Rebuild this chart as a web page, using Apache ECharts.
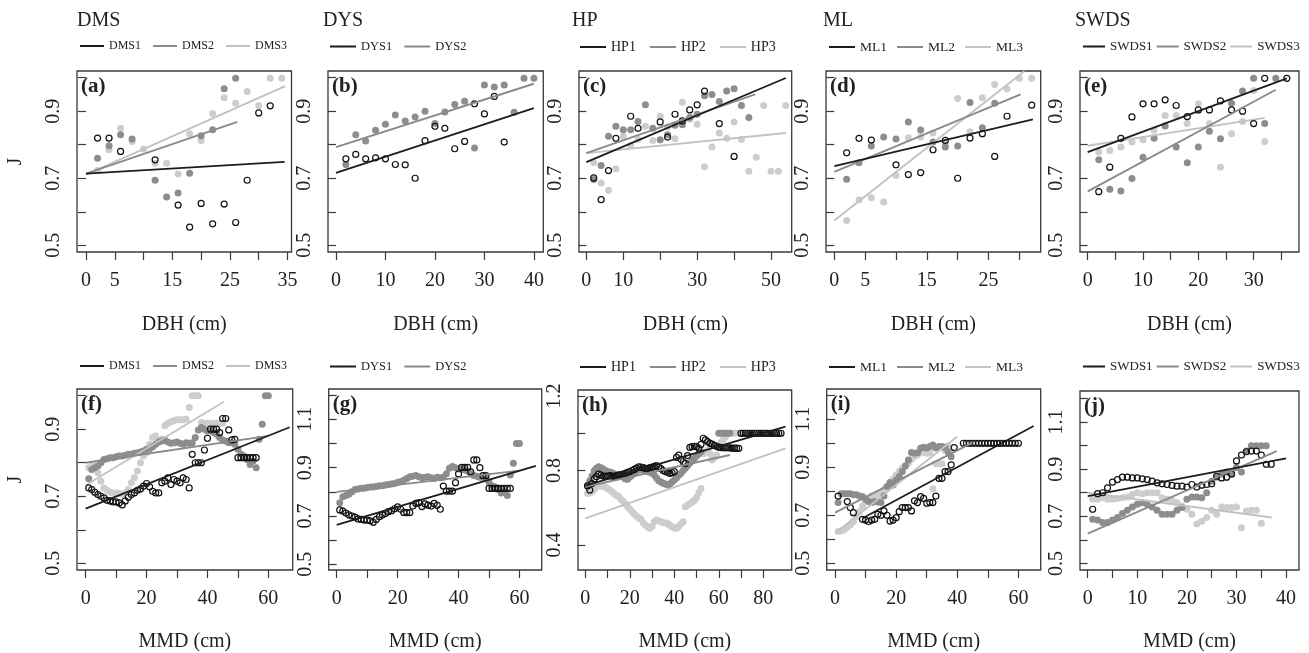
<!DOCTYPE html>
<html><head><meta charset="utf-8">
<script src="https://cdn.jsdelivr.net/npm/echarts@6/dist/echarts.min.js"></script>
<style>html,body{margin:0;padding:0;background:#fff}#c{width:1309px;height:653px}</style>
</head><body><div id="c"></div>
<script>
// ================= DATA =================
// ---- top row: J vs DBH (cm) ----
const DMS1_DBH = [[2,0.82],[4,0.82],[6,0.78],[12,0.755],[16,0.62],[18,0.554],[20,0.625],[22,0.564],[24,0.623],[26,0.568],[28,0.694],[30,0.895],[32,0.916]];
const DMS2_DBH = [[2,0.76],[4,0.797],[6,0.83],[8,0.817],[12,0.694],[14,0.644],[16,0.656],[18,0.715],[20,0.827],[22,0.845],[24,0.967],[26,0.998]];
const DMS3_DBH = [[2,0.723],[4,0.785],[6,0.849],[8,0.81],[10,0.787],[12,0.745],[14,0.745],[16,0.713],[18,0.833],[20,0.813],[22,0.893],[24,0.94],[26,0.924],[28,0.959],[30,0.917],[32,0.998],[34,0.998]];
const DMS1_DBH_fit = [[0,0.714],[34.5,0.749]];
const DMS2_DBH_fit = [[0,0.714],[26.3,0.868]];
const DMS3_DBH_fit = [[0,0.711],[34.6,0.975]];

const DYS1_DBH = [[2,0.758],[4,0.771],[6,0.758],[8,0.761],[10,0.758],[12,0.741],[14,0.74],[16,0.70],[18,0.812],[20,0.855],[22,0.849],[24,0.788],[26,0.81],[28,0.922],[30,0.892],[32,0.944],[34,0.808]];
const DYS2_DBH = [[2,0.741],[4,0.83],[6,0.811],[8,0.843],[10,0.861],[12,0.889],[14,0.871],[16,0.883],[18,0.9],[20,0.863],[22,0.898],[24,0.92],[26,0.93],[28,0.79],[30,0.978],[32,0.972],[34,0.978],[36,0.897],[38,0.998],[40,0.998]];
const DYS1_DBH_fit = [[0,0.716],[40,0.909]];
const DYS2_DBH_fit = [[0,0.793],[40,0.982]];

const HP1_DBH = [[2,0.701],[4,0.636],[6,0.723],[8,0.819],[12,0.885],[14,0.849],[20,0.868],[22,0.823],[24,0.891],[26,0.871],[28,0.904],[30,0.919],[32,0.96],[36,0.863],[40,0.765]];
const HP2_DBH = [[2,0.696],[4,0.738],[6,0.825],[8,0.855],[10,0.845],[12,0.845],[14,0.869],[16,0.919],[18,0.849],[20,0.815],[22,0.83],[24,0.858],[26,0.86],[28,0.881],[30,0.891],[32,0.946],[34,0.95],[36,0.929],[38,0.96],[40,0.967],[42,0.917],[44,0.881]];
const HP3_DBH = [[2,0.747],[4,0.686],[6,0.664],[8,0.728],[10,0.825],[12,0.798],[14,0.816],[16,0.855],[18,0.813],[20,0.885],[22,0.853],[24,0.818],[26,0.927],[28,0.876],[30,0.861],[32,0.734],[34,0.793],[36,0.835],[38,0.819],[40,0.868],[42,0.816],[44,0.721],[46,0.763],[48,0.917],[50,0.721],[52,0.721],[54,0.917]];
const HP1_DBH_fit = [[0,0.748],[54,0.999]];
const HP2_DBH_fit = [[0,0.775],[45.7,0.95]];
const HP3_DBH_fit = [[0,0.775],[54,0.835]];

const ML1_DBH = [[2,0.776],[4,0.819],[6,0.814],[10,0.74],[12,0.711],[14,0.717],[16,0.785],[18,0.813],[20,0.70],[22,0.82],[24,0.833],[26,0.765],[28,0.885],[32,0.918]];
const ML2_DBH = [[2,0.697],[4,0.746],[6,0.796],[8,0.823],[10,0.817],[12,0.868],[14,0.844],[16,0.808],[18,0.793],[20,0.796],[22,0.926],[24,0.851],[26,0.924]];
const ML3_DBH = [[2,0.574],[4,0.636],[6,0.642],[8,0.629],[10,0.708],[12,0.821],[14,0.823],[16,0.835],[18,0.803],[20,0.938],[22,0.839],[24,0.94],[26,0.98],[28,0.966],[30,0.998],[32,0.998]];
const ML1_DBH_fit = [[0,0.736],[32.2,0.876]];
const ML2_DBH_fit = [[0,0.719],[30.2,0.95]];
const ML3_DBH_fit = [[0,0.574],[30.8,1.019]];

const SWDS1_DBH = [[2,0.66],[4,0.733],[6,0.819],[8,0.883],[10,0.922],[12,0.922],[14,0.934],[16,0.917],[18,0.884],[20,0.904],[22,0.904],[24,0.931],[26,0.904],[28,0.9],[30,0.863],[32,0.998],[36,0.998]];
const SWDS2_DBH = [[2,0.755],[4,0.667],[6,0.662],[8,0.699],[10,0.763],[12,0.819],[14,0.856],[16,0.793],[18,0.746],[20,0.793],[22,0.84],[24,0.818],[26,0.924],[28,0.96],[30,0.998],[32,0.863],[34,0.998]];
const SWDS3_DBH = [[2,0.778],[4,0.783],[6,0.793],[8,0.808],[10,0.815],[12,0.843],[14,0.887],[16,0.887],[18,0.863],[20,0.922],[22,0.863],[24,0.733],[26,0.833],[28,0.869],[30,0.962],[32,0.81]];
const SWDS1_DBH_fit = [[0,0.778],[36,0.998]];
const SWDS2_DBH_fit = [[0,0.661],[34,0.964]];
const SWDS3_DBH_fit = [[0,0.797],[32,0.88]];

// ---- bottom row: J vs MMD (cm) ----
const DMS1_MMD = [[1,0.725],[2,0.72],[3,0.712],[4,0.705],[5,0.70],[6,0.695],[7,0.688],[8,0.686],[9,0.683],[10,0.683],[11,0.68],[12,0.674],[13,0.686],[14,0.697],[15,0.705],[16,0.71],[17,0.718],[18,0.722],[19,0.73],[20,0.738],[21,0.728],[22,0.715],[23,0.71],[24,0.71],[25,0.74],[26,0.745],[27,0.755],[28,0.735],[29,0.75],[30,0.745],[31,0.74],[32,0.755],[33,0.75],[34,0.725],[35,0.825],[36,0.80],[37,0.80],[38,0.80],[39,0.838],[40,0.873],[41,0.90],[42,0.90],[43,0.90],[44,0.89],[45,0.932],[46,0.932],[47,0.898],[48,0.868],[49,0.87],[50,0.815],[51,0.815],[52,0.815],[53,0.815],[54,0.815],[55,0.815],[56,0.815]];
const DMS2_MMD = [[1,0.752],[2,0.78],[3,0.785],[4,0.79],[5,0.80],[6,0.81],[7,0.812],[8,0.815],[9,0.815],[10,0.818],[11,0.82],[12,0.82],[13,0.822],[14,0.825],[15,0.825],[16,0.828],[17,0.83],[18,0.832],[19,0.835],[20,0.84],[21,0.842],[22,0.848],[23,0.855],[24,0.862],[25,0.865],[26,0.868],[27,0.862],[28,0.858],[29,0.86],[30,0.862],[31,0.858],[32,0.855],[33,0.86],[34,0.858],[35,0.86],[36,0.875],[37,0.898],[38,0.905],[39,0.90],[40,0.895],[41,0.895],[42,0.89],[43,0.885],[44,0.875],[45,0.868],[46,0.865],[47,0.86],[48,0.86],[49,0.855],[50,0.84],[51,0.825],[52,0.82],[53,0.81],[54,0.795],[55,0.805],[56,0.785],[57,0.87],[58,0.915],[59,1.0],[60,1.0]];
const DMS3_MMD = [[1,0.785],[2,0.79],[3,0.79],[4,0.77],[5,0.745],[6,0.725],[7,0.718],[8,0.712],[9,0.71],[10,0.71],[11,0.708],[12,0.705],[13,0.71],[14,0.72],[15,0.74],[16,0.755],[17,0.775],[18,0.80],[19,0.82],[20,0.83],[21,0.855],[22,0.875],[23,0.88],[24,0.865],[25,0.87],[26,0.91],[27,0.918],[28,0.922],[29,0.925],[30,0.928],[31,0.928],[32,0.928],[33,0.93],[34,0.965],[35,1.0],[36,1.0],[37,1.0],[38,0.92],[39,0.918],[40,0.918],[41,0.918],[42,0.918],[43,0.918],[44,0.918],[45,0.918]];
const DMS1_MMD_fit = [[0,0.663],[67,0.906]];
const DMS2_MMD_fit = [[0,0.80],[60,0.88]];
const DMS3_MMD_fit = [[0,0.733],[45.4,0.982]];

const DYS1_MMD = [[1,0.725],[2,0.72],[3,0.712],[4,0.705],[5,0.70],[6,0.695],[7,0.688],[8,0.686],[9,0.683],[10,0.683],[11,0.68],[12,0.674],[13,0.686],[14,0.697],[15,0.705],[16,0.71],[17,0.718],[18,0.722],[19,0.73],[20,0.738],[21,0.728],[22,0.715],[23,0.714],[24,0.714],[25,0.741],[26,0.752],[27,0.755],[28,0.739],[29,0.75],[30,0.745],[31,0.741],[32,0.752],[33,0.744],[34,0.728],[35,0.824],[36,0.803],[37,0.803],[38,0.803],[39,0.838],[40,0.874],[41,0.901],[42,0.901],[43,0.901],[44,0.883],[45,0.932],[46,0.932],[47,0.90],[48,0.867],[49,0.867],[50,0.814],[51,0.814],[52,0.814],[53,0.814],[54,0.814],[55,0.814],[56,0.814],[57,0.814]];
const DYS2_MMD = [[1,0.755],[2,0.78],[3,0.785],[4,0.79],[5,0.80],[6,0.81],[7,0.812],[8,0.815],[9,0.815],[10,0.818],[11,0.82],[12,0.82],[13,0.822],[14,0.825],[15,0.825],[16,0.828],[17,0.83],[18,0.832],[19,0.835],[20,0.84],[21,0.842],[22,0.848],[23,0.855],[24,0.862],[25,0.865],[26,0.868],[27,0.862],[28,0.858],[29,0.86],[30,0.862],[31,0.858],[32,0.855],[33,0.86],[34,0.858],[35,0.86],[36,0.875],[37,0.898],[38,0.905],[39,0.90],[40,0.895],[41,0.895],[42,0.89],[43,0.885],[44,0.875],[45,0.868],[46,0.865],[47,0.86],[48,0.86],[49,0.855],[50,0.84],[51,0.825],[52,0.82],[53,0.81],[54,0.795],[55,0.805],[56,0.785],[57,0.87],[58,0.918],[59,1.0],[60,1.0]];
const DYS1_MMD_fit = [[0,0.663],[65.4,0.907]];
const DYS2_MMD_fit = [[0,0.80],[60,0.888]];

const HP1_MMD = [[1,0.717],[2,0.695],[3,0.73],[4,0.755],[5,0.767],[6,0.781],[7,0.775],[8,0.77],[9,0.768],[10,0.77],[11,0.772],[12,0.77],[13,0.768],[14,0.772],[15,0.775],[16,0.778],[17,0.78],[18,0.785],[19,0.79],[20,0.794],[21,0.80],[22,0.806],[23,0.813],[24,0.82],[25,0.818],[26,0.815],[27,0.812],[28,0.81],[29,0.815],[30,0.818],[31,0.822],[32,0.826],[33,0.82],[34,0.81],[35,0.80],[36,0.794],[37,0.79],[38,0.785],[39,0.788],[40,0.794],[41,0.87],[42,0.883],[43,0.86],[44,0.847],[45,0.838],[46,0.88],[47,0.924],[48,0.928],[49,0.93],[50,0.928],[51,0.919],[52,0.94],[53,0.973],[54,0.964],[55,0.955],[56,0.946],[57,0.942],[58,0.935],[59,0.93],[60,0.925],[61,0.923],[62,0.923],[63,0.922],[64,0.922],[65,0.922],[66,0.92],[67,0.92],[68,0.92],[69,0.919],[70,1.0],[71,1.0],[72,1.0],[73,1.0],[74,1.0],[75,1.0],[76,1.0],[77,1.0],[78,1.0],[79,1.0],[80,1.0],[81,1.0],[82,1.0],[83,1.0],[84,1.0],[85,1.0],[86,1.0],[87,1.0],[88,1.0]];
const HP2_MMD = [[1,0.72],[2,0.745],[3,0.77],[4,0.80],[5,0.812],[6,0.82],[7,0.815],[8,0.808],[9,0.80],[10,0.795],[11,0.792],[12,0.788],[13,0.782],[14,0.778],[15,0.774],[16,0.77],[17,0.765],[18,0.755],[19,0.753],[20,0.765],[21,0.775],[22,0.785],[23,0.797],[24,0.806],[25,0.806],[26,0.805],[27,0.80],[28,0.795],[29,0.79],[30,0.785],[31,0.776],[32,0.76],[33,0.745],[34,0.738],[35,0.732],[36,0.728],[37,0.722],[38,0.728],[39,0.738],[40,0.749],[41,0.76],[42,0.775],[43,0.785],[44,0.80],[45,0.812],[46,0.825],[47,0.84],[48,0.852],[49,0.865],[50,0.878],[51,0.89],[52,0.90],[60,1.0],[61,1.0],[62,1.0],[63,1.0],[64,1.0],[65,1.0]];
const HP3_MMD = [[1,0.677],[2,0.68],[3,0.686],[4,0.70],[5,0.713],[6,0.716],[7,0.717],[8,0.716],[9,0.71],[10,0.704],[11,0.695],[12,0.686],[13,0.675],[14,0.667],[15,0.66],[16,0.645],[17,0.635],[18,0.62],[19,0.606],[20,0.593],[21,0.579],[22,0.567],[23,0.556],[24,0.545],[25,0.538],[26,0.52],[27,0.507],[28,0.498],[29,0.49],[30,0.50],[31,0.525],[32,0.534],[33,0.53],[34,0.525],[35,0.52],[36,0.518],[37,0.516],[38,0.505],[39,0.498],[40,0.492],[41,0.49],[42,0.50],[43,0.513],[44,0.525],[45,0.606],[46,0.615],[47,0.622],[48,0.63],[49,0.64],[50,0.655],[51,0.68],[52,0.704],[53,0.89],[54,0.90],[55,0.91],[56,0.89],[57,0.856],[58,0.87],[59,0.883],[60,0.93],[61,0.95],[62,0.964],[63,0.98],[64,1.0],[65,1.0],[66,1.0],[67,1.0],[68,1.0],[69,1.0]];
const HP1_MMD_fit = [[0,0.719],[90,1.035]];
const HP2_MMD_fit = [[0,0.713],[65,0.883]];
const HP3_MMD_fit = [[0,0.543],[90,0.919]];

const ML1_MMD = [[1,0.78],[4,0.757],[5,0.732],[6,0.711],[9,0.683],[10,0.68],[11,0.674],[12,0.68],[13,0.683],[14,0.704],[15,0.70],[16,0.718],[17,0.70],[18,0.676],[19,0.68],[20,0.69],[21,0.715],[22,0.732],[23,0.732],[24,0.732],[25,0.718],[26,0.76],[27,0.753],[28,0.778],[29,0.77],[30,0.75],[31,0.753],[32,0.753],[33,0.78],[34,0.854],[35,0.854],[36,0.882],[37,0.882],[38,0.91],[39,0.982],[42,1.0],[43,1.0],[44,1.0],[45,1.0],[46,1.0],[47,1.0],[48,1.0],[49,1.0],[50,1.0],[51,1.0],[52,1.0],[53,1.0],[54,1.0],[55,1.0],[56,1.0],[57,1.0],[58,1.0],[59,1.0],[60,1.0]];
const ML2_MMD = [[1,0.753],[2,0.79],[3,0.79],[4,0.79],[5,0.79],[6,0.785],[7,0.785],[8,0.78],[9,0.778],[10,0.767],[11,0.757],[12,0.753],[13,0.757],[14,0.755],[15,0.753],[16,0.78],[17,0.82],[18,0.836],[19,0.826],[20,0.847],[21,0.861],[22,0.882],[23,0.906],[24,0.93],[25,0.961],[26,0.958],[27,0.96],[28,0.979],[29,0.983],[30,0.98],[31,0.986],[32,0.993],[33,0.98],[34,0.986],[35,0.986],[36,0.982],[37,0.965],[38,0.944]];
const ML3_MMD = [[1,0.632],[2,0.636],[3,0.64],[4,0.65],[5,0.66],[6,0.674],[7,0.694],[8,0.715],[9,0.739],[10,0.757],[11,0.771],[12,0.78],[13,0.785],[14,0.79],[15,0.795],[16,0.806],[17,0.82],[18,0.836],[19,0.85],[20,0.868],[21,0.882],[22,0.896],[23,0.903],[24,0.917],[25,0.933],[26,0.945],[27,0.951],[28,0.965],[29,0.96],[30,0.958],[31,0.96],[32,0.81],[33,0.915],[34,0.915],[35,0.915],[36,0.97],[37,0.99]];
const ML1_MMD_fit = [[9,0.6875],[65,1.072]];
const ML2_MMD_fit = [[0,0.711],[45,1.003]];
const ML3_MMD_fit = [[0,0.625],[40,1.028]];

const SWDS1_MMD = [[1,0.73],[2,0.796],[3,0.80],[4,0.821],[5,0.845],[6,0.856],[7,0.866],[8,0.866],[9,0.863],[10,0.863],[11,0.859],[12,0.856],[13,0.849],[14,0.842],[15,0.838],[16,0.835],[17,0.831],[18,0.828],[19,0.828],[20,0.824],[21,0.835],[22,0.824],[23,0.832],[24,0.835],[25,0.838],[26,0.87],[27,0.863],[28,0.866],[29,0.88],[30,0.935],[31,0.96],[32,0.974],[33,0.977],[34,0.977],[35,0.96],[36,0.921],[37,0.921]];
const SWDS2_MMD = [[1,0.688],[2,0.684],[3,0.674],[4,0.674],[5,0.684],[6,0.695],[7,0.712],[8,0.726],[9,0.74],[10,0.751],[11,0.758],[12,0.751],[13,0.74],[14,0.726],[15,0.709],[16,0.709],[17,0.709],[18,0.726],[19,0.737],[20,0.772],[21,0.782],[22,0.782],[23,0.779],[24,0.80],[25,0.849],[26,0.866],[27,0.88],[28,0.888],[29,0.88],[30,0.907],[31,0.888],[32,0.977],[33,1.0],[34,1.0],[35,1.0],[36,1.0]];
const SWDS3_MMD = [[1,0.772],[2,0.772],[3,0.779],[4,0.772],[5,0.772],[6,0.776],[7,0.779],[8,0.782],[9,0.793],[10,0.80],[11,0.796],[12,0.80],[13,0.80],[14,0.80],[15,0.779],[16,0.772],[17,0.768],[18,0.758],[19,0.744],[20,0.73],[21,0.709],[22,0.667],[23,0.679],[24,0.695],[25,0.726],[26,0.709],[27,0.74],[28,0.737],[29,0.737],[30,0.74],[31,0.651],[32,0.723],[33,0.726],[34,0.726],[35,0.67]];
const SWDS1_MMD_fit = [[0,0.786],[40,0.946]];
const SWDS2_MMD_fit = [[0,0.626],[38.1,0.977]];
const SWDS3_MMD_fit = [[0,0.80],[37.1,0.695]];

// ---- tick values and tick labels ----
const aXTicks = [0,5,10,15,20,25,30,35], aXLabels = [0,5,15,25,35];
const bXTicks = [0,10,20,30,40], bXLabels = [0,10,20,30,40];
const cXTicks = [0,10,20,30,40,50], cXLabels = [0,10,30,50];
const dXTicks = [0,5,10,15,20,25,30], dXLabels = [0,5,15,25];
const eXTicks = [0,5,10,15,20,25,30,35], eXLabels = [0,10,20,30];
const fXTicks = [0,10,20,30,40,50,60], fXLabels = [0,20,40,60];
const hXTicks = [0,10,20,30,40,50,60,70,80], hXLabels = [0,20,40,60,80];
const jXTicks = [0,5,10,15,20,25,30,35,40], jXLabels = [0,10,20,30,40];
const yTicks05_10 = [0.5,0.6,0.7,0.8,0.9,1.0], yLabels05_10 = [0.5,0.7,0.9];
const yTicks05_12 = [0.5,0.6,0.7,0.8,0.9,1.0,1.1,1.2], yLabels05_12 = [0.5,0.7,0.9,1.1];
const yTicks04_12 = [0.4,0.6,0.8,1.0,1.2], yLabels04_12 = [0.4,0.8,1.2];

const groupNames = ['DMS','DYS','HP','ML','SWDS'];
const panelTags = ['(a)','(b)','(c)','(d)','(e)','(f)','(g)','(h)','(i)','(j)'];
const seriesNames = [['DMS1','DMS2','DMS3'],['DYS1','DYS2'],['HP1','HP2','HP3'],['ML1','ML2','ML3'],['SWDS1','SWDS2','SWDS3']];

// ================= LAYOUT / STYLE =================
const SERIF = "'Liberation Serif', 'Times New Roman', serif";
const INK = '#222';
const FRAME = '#3a3a3a';
const PT_FILL = ['rgba(0,0,0,0)', '#8d8d8d', '#cdcdcd'];
const LINE_COL = ['#1c1c1c', '#8a8a8a', '#c2c2c2'];

const panels = [
  {pts:[DMS1_DBH,DMS2_DBH,DMS3_DBH], fits:[DMS1_DBH_fit,DMS2_DBH_fit,DMS3_DBH_fit], xT:aXTicks, xL:aXLabels, yT:yTicks05_10, yL:yLabels05_10, box:[77,71,291.5,252], xr:[-1.57,35.7], yr:[0.48,1.02]},
  {pts:[DYS1_DBH,DYS2_DBH], fits:[DYS1_DBH_fit,DYS2_DBH_fit], xT:bXTicks, xL:bXLabels, yT:yTicks05_10, yL:yLabels05_10, box:[328,71,543.3,252], xr:[-1.61,41.9], yr:[0.48,1.02]},
  {pts:[HP1_DBH,HP2_DBH,HP3_DBH], fits:[HP1_DBH_fit,HP2_DBH_fit,HP3_DBH_fit], xT:cXTicks, xL:cXLabels, yT:yTicks05_10, yL:yLabels05_10, box:[579,71,791.7,252], xr:[-1.99,55.6], yr:[0.48,1.02]},
  {pts:[ML1_DBH,ML2_DBH,ML3_DBH], fits:[ML1_DBH_fit,ML2_DBH_fit,ML3_DBH_fit], xT:dXTicks, xL:dXLabels, yT:yTicks05_10, yL:yLabels05_10, box:[826,71,1040.7,252], xr:[-1.35,33.46], yr:[0.48,1.02]},
  {pts:[SWDS1_DBH,SWDS2_DBH,SWDS3_DBH], fits:[SWDS1_DBH_fit,SWDS2_DBH_fit,SWDS3_DBH_fit], xT:eXTicks, xL:eXLabels, yT:yTicks05_10, yL:yLabels05_10, box:[1080,71,1299,252], xr:[-1.39,38.2], yr:[0.48,1.02]},
  {pts:[DMS1_MMD,DMS2_MMD,DMS3_MMD], fits:[DMS1_MMD_fit,DMS2_MMD_fit,DMS3_MMD_fit], xT:fXTicks, xL:fXLabels, yT:yTicks05_10, yL:yLabels05_10, box:[77,389,292.7,570], xr:[-2.85,68.0], yr:[0.48,1.02]},
  {pts:[DYS1_MMD,DYS2_MMD], fits:[DYS1_MMD_fit,DYS2_MMD_fit], xT:fXTicks, xL:fXLabels, yT:yTicks05_12, yL:yLabels05_12, box:[328.7,389,541.7,570], xr:[-2.63,67.3], yr:[0.4766,1.2255]},
  {pts:[HP1_MMD,HP2_MMD,HP3_MMD], fits:[HP1_MMD_fit,HP2_MMD_fit,HP3_MMD_fit], xT:hXTicks, xL:hXLabels, yT:yTicks04_12, yL:yLabels04_12, box:[578,390,791.7,570], xr:[-3.3,92.8], yr:[0.266,1.232]},
  {pts:[ML1_MMD,ML2_MMD,ML3_MMD], fits:[ML1_MMD_fit,ML2_MMD_fit,ML3_MMD_fit], xT:fXTicks, xL:fXLabels, yT:yTicks05_12, yL:yLabels05_12, box:[826.7,389,1040.7,570], xr:[-2.73,67.3], yr:[0.472,1.226]},
  {pts:[SWDS1_MMD,SWDS2_MMD,SWDS3_MMD], fits:[SWDS1_MMD_fit,SWDS2_MMD_fit,SWDS3_MMD_fit], xT:jXTicks, xL:jXLabels, yT:yTicks05_12, yL:yLabels05_12, box:[1080,391,1299,573], xr:[-1.55,42.6], yr:[0.472,1.232]}
];
// legend / title placement per column
const colTitleLeft = [77, 323, 572, 823, 1075];
const colLegend = [
  {left:79, w:24, gap:11, fs:12},
  {left:329, w:26, gap:11, fs:12.5},
  {left:579, w:26, gap:13, fs:14},
  {left:828, w:26, gap:9, fs:13.5},
  {left:1082, w:22, gap:3, fs:13}
];

const grids = [], xAxes = [], yAxes = [], series = [], legends = [], texts = [];

panels.forEach((p, i) => {
  const col = i % 5, row = Math.floor(i / 5);
  const [l, t, r, b] = p.box;
  grids.push({left:l, top:t, width:r-l, height:b-t, show:true, borderColor:FRAME, borderWidth:1.3, backgroundColor:'rgba(0,0,0,0)', containLabel:false});
  xAxes.push({
    gridIndex:i, type:'value', min:p.xr[0], max:p.xr[1],
    splitLine:{show:false}, axisLine:{show:false},
    axisTick:{show:true, customValues:p.xT, length:8, lineStyle:{color:FRAME, width:1.2}},
    axisLabel:{customValues:p.xL, margin:19, fontFamily:SERIF, fontSize:20, color:INK, hideOverlap:false},
    name: row === 0 ? 'DBH (cm)' : 'MMD (cm)', nameLocation:'middle', nameGap: row === 0 ? 63 : 62,
    nameTextStyle:{fontFamily:SERIF, fontSize:20, color:INK}
  });
  yAxes.push({
    gridIndex:i, type:'value', min:p.yr[0], max:p.yr[1],
    splitLine:{show:false}, axisLine:{show:false},
    axisTick:{show:true, customValues:p.yT, length:8, lineStyle:{color:FRAME, width:1.2}},
    axisLabel:{customValues:p.yL, rotate:90, margin:13, fontFamily:SERIF, fontSize:20, color:INK, hideOverlap:false},
    name: col === 0 ? 'J' : '', nameLocation:'middle', nameRotate:90, nameGap:51,
    nameTextStyle:{fontFamily:SERIF, fontSize:20, color:INK}
  });
  const names = seriesNames[col];
  // points: light first, then gray, then black open circles on top
  for (let k = p.pts.length - 1; k >= 0; k--) {
    const open = (k === 0);
    series.push({
      type:'scatter', name: names[k] + ' points', xAxisIndex:i, yAxisIndex:i, data:p.pts[k],
      symbol:'circle', symbolSize: open ? 6 : 7, silent:true, z: 2 + (2 - k), clip:false,
      itemStyle: open ? {color:'rgba(0,0,0,0)', borderColor:'#111', borderWidth:1.2, opacity:1}
                      : {color:PT_FILL[k], borderWidth:0, opacity:1}
    });
  }
  p.fits.forEach((f, k) => {
    series.push({
      type:'line', name:names[k], xAxisIndex:i, yAxisIndex:i, data:f, symbol:'none', silent:true, z:6 - k,
      lineStyle:{color:LINE_COL[k], width: k === 0 ? 1.8 : 1.9}, itemStyle:{color:LINE_COL[k]}, clip:false
    });
  });
  const lg = colLegend[col];
  legends.push({
    left:lg.left, top: row === 0 ? 40 : 360, orient:'horizontal', padding:0,
    itemWidth:lg.w, itemHeight:2, itemGap:lg.gap, selectedMode:false,
    data:names, textStyle:{fontFamily:SERIF, fontSize:lg.fs, color:INK}
  });
  texts.push({type:'text', x:l + 4, y:t + 5, silent:true, z:10,
    style:{text:panelTags[i], fontFamily:SERIF, fontSize:21, fontWeight:'bold', fill:INK, verticalAlign:'top', align:'left'}});
});
groupNames.forEach((g, c) => {
  texts.push({type:'text', x:colTitleLeft[c], y:11, silent:true, z:10,
    style:{text:g, fontFamily:SERIF, fontSize:20, fontWeight:'normal', fill:INK, verticalAlign:'top', align:'left'}});
});

const chart = echarts.init(document.getElementById('c'), null, {renderer:'canvas'});
chart.setOption({
  animation:false, backgroundColor:'#fff',
  legend:legends, grid:grids, xAxis:xAxes, yAxis:yAxes, series:series,
  graphic:{elements:texts},
  tooltip:{show:false}
});
</script></body></html>
